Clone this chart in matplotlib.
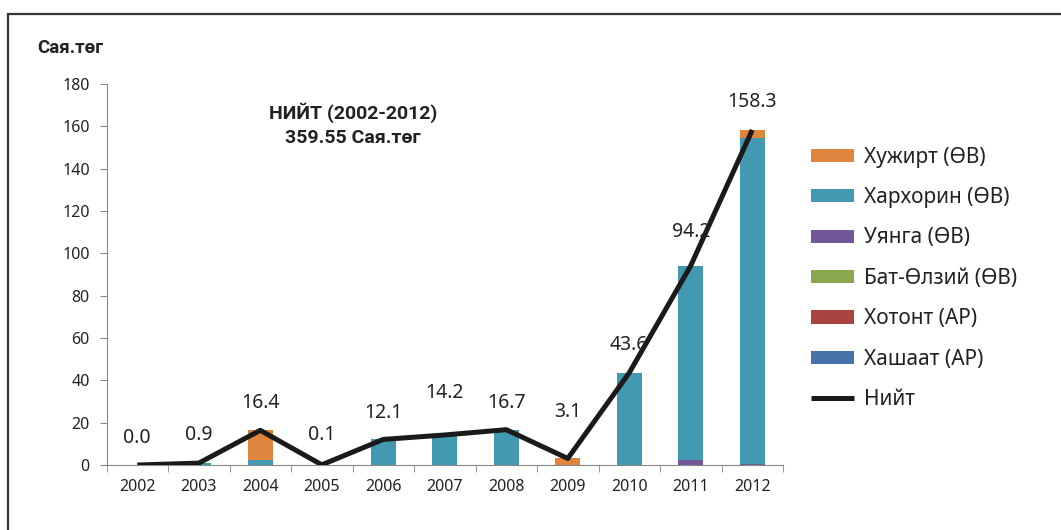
import matplotlib
matplotlib.use('Agg')
import matplotlib.pyplot as plt
import numpy as np

plt.rcParams['font.family'] = ['Noto Sans', 'DejaVu Sans']

years = ['2002', '2003', '2004', '2005', '2006', '2007', '2008', '2009', '2010', '2011', '2012']
# series, bottom of the stack first
hashaat = [0, 0, 0, 0, 0, 0, 0, 0, 0, 0, 0]
hotont = [0, 0, 0, 0, 0, 0, 0, 0, 0, 0, 0]
bat_olziy = [0, 0, 0, 0, 0, 0, 0, 0, 0, 0, 0]
uyanga = [0, 0, 0, 0, 0, 0, 0, 0, 0, 2.6, 0.7]
harhorin = [0, 0.9, 2.4, 0.1, 12.1, 14.2, 16.7, 0, 43.6, 91.6, 153.9]
huzhirt = [0, 0, 14.0, 0, 0, 0, 0, 3.1, 0, 0, 3.7]
total = [0.0, 0.9, 16.4, 0.1, 12.1, 14.2, 16.7, 3.1, 43.6, 94.2, 158.3]

names = ['Хашаат (АР)', 'Хотонт (АР)', 'Бат-Өлзий (ӨВ)', 'Уянга (ӨВ)', 'Хархорин (ӨВ)', 'Хужирт (ӨВ)']
colors = ['#4672A9', '#AA4441', '#8AA84E', '#73579A', '#4399B1', '#E0853E']
series = [hashaat, hotont, bat_olziy, uyanga, harhorin, huzhirt]

# label offsets above the line points (pixels)
lab_off = [27, 28, 27, 30, 26, 42, 27, 46, 28, 34, 28]

fig = plt.figure(figsize=(10.61, 5.30), dpi=100)
ax = fig.add_axes([0.1004, 0.1226, 0.6376, 0.7189])

x = np.arange(len(years))
bottom = np.zeros(len(years))
handles = []
for s, name, c in zip(series, names, colors):
    b = ax.bar(x, s, 0.4, bottom=bottom, color=c, label=name, zorder=2)
    bottom += np.array(s)
    handles.append(b)

line, = ax.plot(x, total, color='#1a1a1a', lw=3.6, label='Нийт', zorder=3,
                solid_capstyle='butt')

for xi, v, off in zip(x, total, lab_off):
    ax.annotate('%.1f' % v, (xi, v), xytext=(0, off), textcoords='offset pixels',
                ha='center', va='center', fontsize=14, color='#222222')

ax.set_xlim(-0.5, 10.5)
ax.set_ylim(0, 180)
ax.set_yticks(range(0, 181, 20))
ax.set_xticks(x)
ax.set_xticklabels(years)
ax.set_xticks(np.arange(-0.5, 11, 1), minor=True)
ax.tick_params(axis='x', which='major', length=0, labelsize=11.5, pad=10, colors='#222222')
ax.tick_params(axis='x', which='minor', length=5, color='#888888')
ax.tick_params(axis='y', length=5, color='#888888', labelsize=11.5, pad=7, labelcolor='#222222')
for sp in ['top', 'right']:
    ax.spines[sp].set_visible(False)
for sp in ['left', 'bottom']:
    ax.spines[sp].set_color('#888888')

bold_fam = ['Roboto', 'DejaVu Sans']
fig.text(37 / 1061, 1 - 48 / 530, 'Сая.төг', fontsize=13.5, fontweight='bold',
         family=bold_fam, ha='left', va='center', color='#222222')
fig.text(353 / 1061, 1 - 125 / 530, 'НИЙТ (2002-2012)\n359.55 Сая.төг', fontsize=14,
         fontweight='bold', family=bold_fam, ha='center', va='center',
         linespacing=1.42, color='#222222')

leg_handles = handles[::-1] + [line]
fig.legend(handles=leg_handles, labels=[h.get_label() for h in leg_handles],
           loc='upper left', bbox_to_anchor=(792 / 1061, 1 - 128 / 530),
           frameon=False, fontsize=15, handlelength=2.06, handleheight=0.6,
           labelspacing=0.93, handletextpad=0.5, labelcolor='#222222')

# outer frame
fig.patches.append(plt.Rectangle((8 / 1061, -0.1), 1.2, 1.1 - 14 / 530,
                                 transform=fig.transFigure, fill=False,
                                 edgecolor='#333333', lw=1.6))

fig.savefig('out.png', dpi=100)
